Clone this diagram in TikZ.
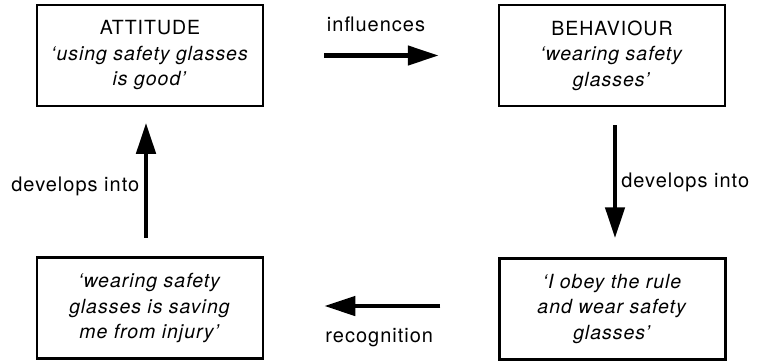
\documentclass[tikz,border=0pt]{standalone}
\usepackage{fontspec}
\setmainfont{TeX Gyre Heros}[LetterSpace=5]
\usetikzlibrary{arrows.meta,positioning}
\tikzset{
  box/.style={draw=black, line width=2.5pt, minimum width=226pt, minimum height=101pt, inner sep=0pt, align=center, font=\fontsize{19.5}{25.5}\selectfont},
  arr/.style={-{Triangle[length=31pt,width=19pt]}, line width=4.5pt, draw=black},
  lbl/.style={font=\fontsize{20}{24}\selectfont, inner sep=0pt}
}

\begin{document}
\begin{tikzpicture}[x=1pt,y=1pt]
\useasboundingbox (0,0) rectangle (757,-360);
\node[box] (att) at (150,-55.5) {ATTITUDE\\\textit{‘using safety glasses}\\\textit{is good’}};
\node[box] (beh) at (612,-55.5) {BEHAVIOUR\\\textit{‘wearing safety}\\\textit{glasses’}};
\node[box] (obey) at (612.5,-309) {\textit{‘I obey the rule}\\\textit{and wear safety}\\\textit{glasses’}};
\node[box] (save) at (150,-308) {\textit{‘wearing safety}\\\textit{glasses is saving}\\\textit{me from injury’}};
\draw[arr,shorten <=60pt,shorten >=59pt] (att.east) -- node[lbl,anchor=base,xshift=-5pt,yshift=24pt]{influences} (beh.west);
\draw[arr,shorten <=18pt,shorten >=19pt] ([xshift=3pt]beh.south) -- node[lbl,anchor=base west,xshift=4pt,yshift=-5.5pt]{develops into} ([xshift=2.5pt]obey.north);
\draw[arr,shorten <=58pt,shorten >=60pt] ([yshift=3pt]obey.west) -- node[lbl,anchor=base,xshift=-2pt,yshift=-36.5pt]{recognition} ([yshift=2pt]save.east);
\draw[arr,shorten <=18.5pt,shorten >=15.5pt] ([xshift=-4pt]save.north) -- node[lbl,anchor=base east,xshift=-4.5pt,yshift=-10pt]{develops into} ([xshift=-4pt]att.south);
\end{tikzpicture}
\end{document}
